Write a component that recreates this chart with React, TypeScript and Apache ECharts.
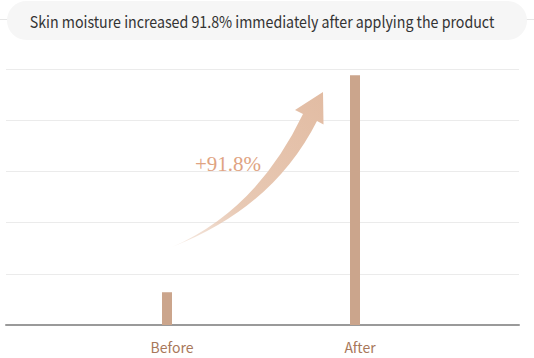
import React, { useEffect, useRef } from "react";
import * as echarts from "echarts";

const categories = ["Before", "After"];
const moistureValues = [6.4, 48.8];
const yMin = 0;
const yMax = 50;
const yInterval = 10;
const titleText = "Skin moisture increased 91.8% immediately after applying the product";
const increaseLabel = "+91.8%";

const arrowPath =
  "M172 247 Q257 210 303 114 L295 110 L323 92 L323.5 124.5 L317 121 Q273 208 172 247 Z";

let registered = false;
function ensureShape() {
  if (registered) return;
  echarts.graphic.registerShape("risearrow", echarts.graphic.extendPath(arrowPath, {}) as any);
  registered = true;
}

export default function App() {
  const ref = useRef<HTMLDivElement>(null);
  useEffect(() => {
    if (!ref.current) return;
    ensureShape();
    const chart = echarts.init(ref.current, undefined, { renderer: "svg" });
    const option: any = {
      animation: false,
      grid: [
        { left: 6, right: 15, top: 69, bottom: 33 },
        { left: 73, right: 85, top: 69, bottom: 33 },
      ],
      xAxis: [
        {
          type: "category",
          gridIndex: 0,
          data: categories,
          axisLine: { show: true, lineStyle: { color: "#9a9a9a", width: 2 } },
          axisTick: { show: false },
          axisLabel: { show: false },
        },
        {
          type: "category",
          gridIndex: 1,
          data: categories,
          axisLine: { show: false },
          axisTick: { show: false },
          axisLabel: {
            color: "#a8785a",
            fontSize: 14,
            fontFamily: "Noto Sans CJK SC",
            margin: 15,
            padding: [0, 0, 0, 10],
          },
        },
      ],
      yAxis: [
        {
          type: "value",
          gridIndex: 0,
          min: yMin,
          max: yMax,
          interval: yInterval,
          axisLine: { show: false },
          axisTick: { show: false },
          axisLabel: { show: false },
          splitLine: { lineStyle: { color: "#ebebeb", width: 1 } },
        },
        {
          type: "value",
          gridIndex: 1,
          min: yMin,
          max: yMax,
          interval: yInterval,
          axisLine: { show: false },
          axisTick: { show: false },
          axisLabel: { show: false },
          splitLine: { show: false },
        },
      ],
      series: [
        {
          type: "bar",
          xAxisIndex: 1,
          yAxisIndex: 1,
          data: moistureValues,
          barWidth: 10,
          itemStyle: { color: "#cba58c" },
          z: 3,
        },
      ],
      graphic: [
        {
          type: "line",
          shape: { x1: 0, y1: 19.5, x2: 534, y2: 19.5 },
          style: { stroke: "#e6e6e6", lineWidth: 1 },
          z: 1,
        },
        {
          type: "rect",
          shape: { x: 7, y: 1, width: 520, height: 39, r: 19.5 },
          style: { fill: "#f6f6f6" },
          z: 2,
        },
        {
          type: "text",
          x: 262,
          y: 21,
          scaleX: 0.888,
          style: {
            text: titleText,
            fill: "#333333",
            font: "16px 'Noto Sans CJK SC'",
            align: "center",
            verticalAlign: "middle",
          },
          z: 3,
        },
        {
          type: "risearrow",
          x: 0,
          y: 0,
          style: {
            fill: {
              type: "linear",
              x: 172,
              y: 247,
              x2: 323,
              y2: 92,
              global: true,
              colorStops: [
                { offset: 0, color: "rgba(230,196,174,0.3)" },
                { offset: 0.35, color: "#e8c9b4" },
                { offset: 1, color: "#e2bca3" },
              ],
            },
          },
          z: 4,
        },
        {
          type: "text",
          x: 228,
          y: 164,
          style: {
            text: increaseLabel,
            fill: "#e0a382",
            font: "21px 'Liberation Serif'",
            align: "center",
            verticalAlign: "middle",
          },
          z: 5,
        },
      ],
    };
    chart.setOption(option);
    return () => chart.dispose();
  }, []);
  return (
    <div
      ref={ref}
      style={{ position: "absolute", left: 0, top: 0, width: 534, height: 358 }}
    />
  );
}
